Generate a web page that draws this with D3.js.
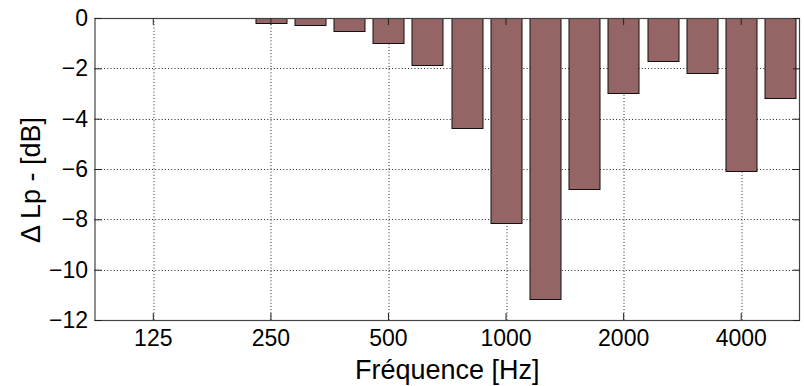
<!DOCTYPE html>
<html>
<head>
<meta charset="utf-8">
<script src="https://cdn.jsdelivr.net/npm/d3@7"></script>
<style>
  body { margin: 0; background: #fff; }
  svg { display: block; font-family: "Liberation Sans", Arial, sans-serif; }
</style>
</head>
<body>
<div id="chart"></div>
<script>
// third-octave bands, 100 Hz .. 5000 Hz
const bands = [100, 125, 160, 200, 250, 315, 400, 500, 630, 800, 1000, 1250, 1600, 2000, 2500, 3150, 4000, 5000];
// level difference per band, dB
const deltaLp = [0, 0, 0, 0, -0.21, -0.28, -0.5, -1.0, -1.88, -4.37, -8.16, -11.16, -6.78, -2.99, -1.7, -2.19, -6.09, -3.19];
const xTickLabels = [125, 250, 500, 1000, 2000, 4000];
const yTicks = [0, -2, -4, -6, -8, -10, -12];

const width = 804, height = 386;
const margin = { top: 18, right: 4, bottom: 66, left: 94.5 };
const plotW = width - margin.left - margin.right;
const plotH = height - margin.top - margin.bottom;

const svg = d3.select('#chart')
  .append('svg')
  .attr('width', width)
  .attr('height', height);

const g = svg.append('g')
  .attr('transform', `translate(${margin.left},${margin.top})`);

// MATLAB-style bar layout: bar width 0.8, half gap on each end
const x = d3.scaleBand()
  .domain(bands)
  .range([0, plotW])
  .paddingInner(0.2)
  .paddingOuter(0.1);
const cx = f => x(f) + x.bandwidth() / 2;

const y = d3.scaleLinear()
  .domain([-12, 0])
  .range([plotH, 0]);

// grid
const grid = g.append('g').attr('class', 'grid')
  .attr('stroke', '#222')
  .attr('stroke-width', 1)
  .attr('stroke-dasharray', '1,2.2');

grid.selectAll('.hgrid')
  .data(yTicks.filter(t => t !== 0 && t !== -12))
  .join('line')
  .attr('x1', 0).attr('x2', plotW)
  .attr('y1', d => Math.round(y(d)) + 0.5)
  .attr('y2', d => Math.round(y(d)) + 0.5);

grid.selectAll('.vgrid')
  .data(xTickLabels)
  .join('line')
  .attr('x1', d => Math.round(cx(d)) + 0.5)
  .attr('x2', d => Math.round(cx(d)) + 0.5)
  .attr('y1', 0).attr('y2', plotH);

// bars
g.append('g').selectAll('rect')
  .data(bands.map((f, i) => ({ f, v: deltaLp[i] })).filter(d => d.v !== 0))
  .join('rect')
  .attr('x', d => Math.round(x(d.f)) + 0.5)
  .attr('y', y(0) + 0.5)
  .attr('width', Math.round(x.bandwidth()))
  .attr('height', d => Math.max(0, Math.round(y(d.v) - y(0))))
  .attr('fill', '#956464')
  .attr('stroke', '#111')
  .attr('stroke-width', 1);

// axes box
g.append('rect')
  .attr('x', 0.5).attr('y', 0.5)
  .attr('width', plotW - 1).attr('height', plotH)
  .attr('fill', 'none')
  .attr('stroke', '#444')
  .attr('stroke-width', 1.2);

// ticks (inside, all four sides)
const tickLen = 7;
const yAxisL = d3.axisLeft(y).tickValues(yTicks).tickSizeInner(-tickLen).tickSizeOuter(0).tickPadding(6.5);
const yAxisR = d3.axisRight(y).tickValues(yTicks).tickSizeInner(-tickLen).tickSizeOuter(0).tickFormat('');
const xAxisB = d3.axisBottom(x).tickValues(xTickLabels).tickSizeInner(-tickLen).tickSizeOuter(0).tickPadding(10);
const xAxisT = d3.axisTop(x).tickValues(xTickLabels).tickSizeInner(-tickLen).tickSizeOuter(0).tickFormat('');

function styleAxis(sel) {
  sel.select('.domain').remove();
  sel.selectAll('line').attr('stroke', '#222');
  sel.selectAll('text')
    .attr('fill', '#000')
    .style('font-size', '23px')
    .style('font-family', '"Liberation Sans", Arial, sans-serif');
}

g.append('g').call(yAxisL).call(styleAxis);
g.append('g').attr('transform', `translate(${plotW},0)`).call(yAxisR).call(styleAxis);
g.append('g').attr('transform', `translate(0,${plotH})`).call(xAxisB).call(styleAxis);
g.append('g').call(xAxisT).call(styleAxis);

// axis titles
svg.append('text')
  .attr('x', margin.left + plotW / 2)
  .attr('y', 379)
  .attr('text-anchor', 'middle')
  .style('font-size', '27px')
  .text('Fréquence [Hz]');

svg.append('text')
  .attr('transform', 'translate(40,180) rotate(-90)')
  .attr('text-anchor', 'middle')
  .style('font-size', '27px')
  .text('Δ Lp - [dB]');
</script>
</body>
</html>
